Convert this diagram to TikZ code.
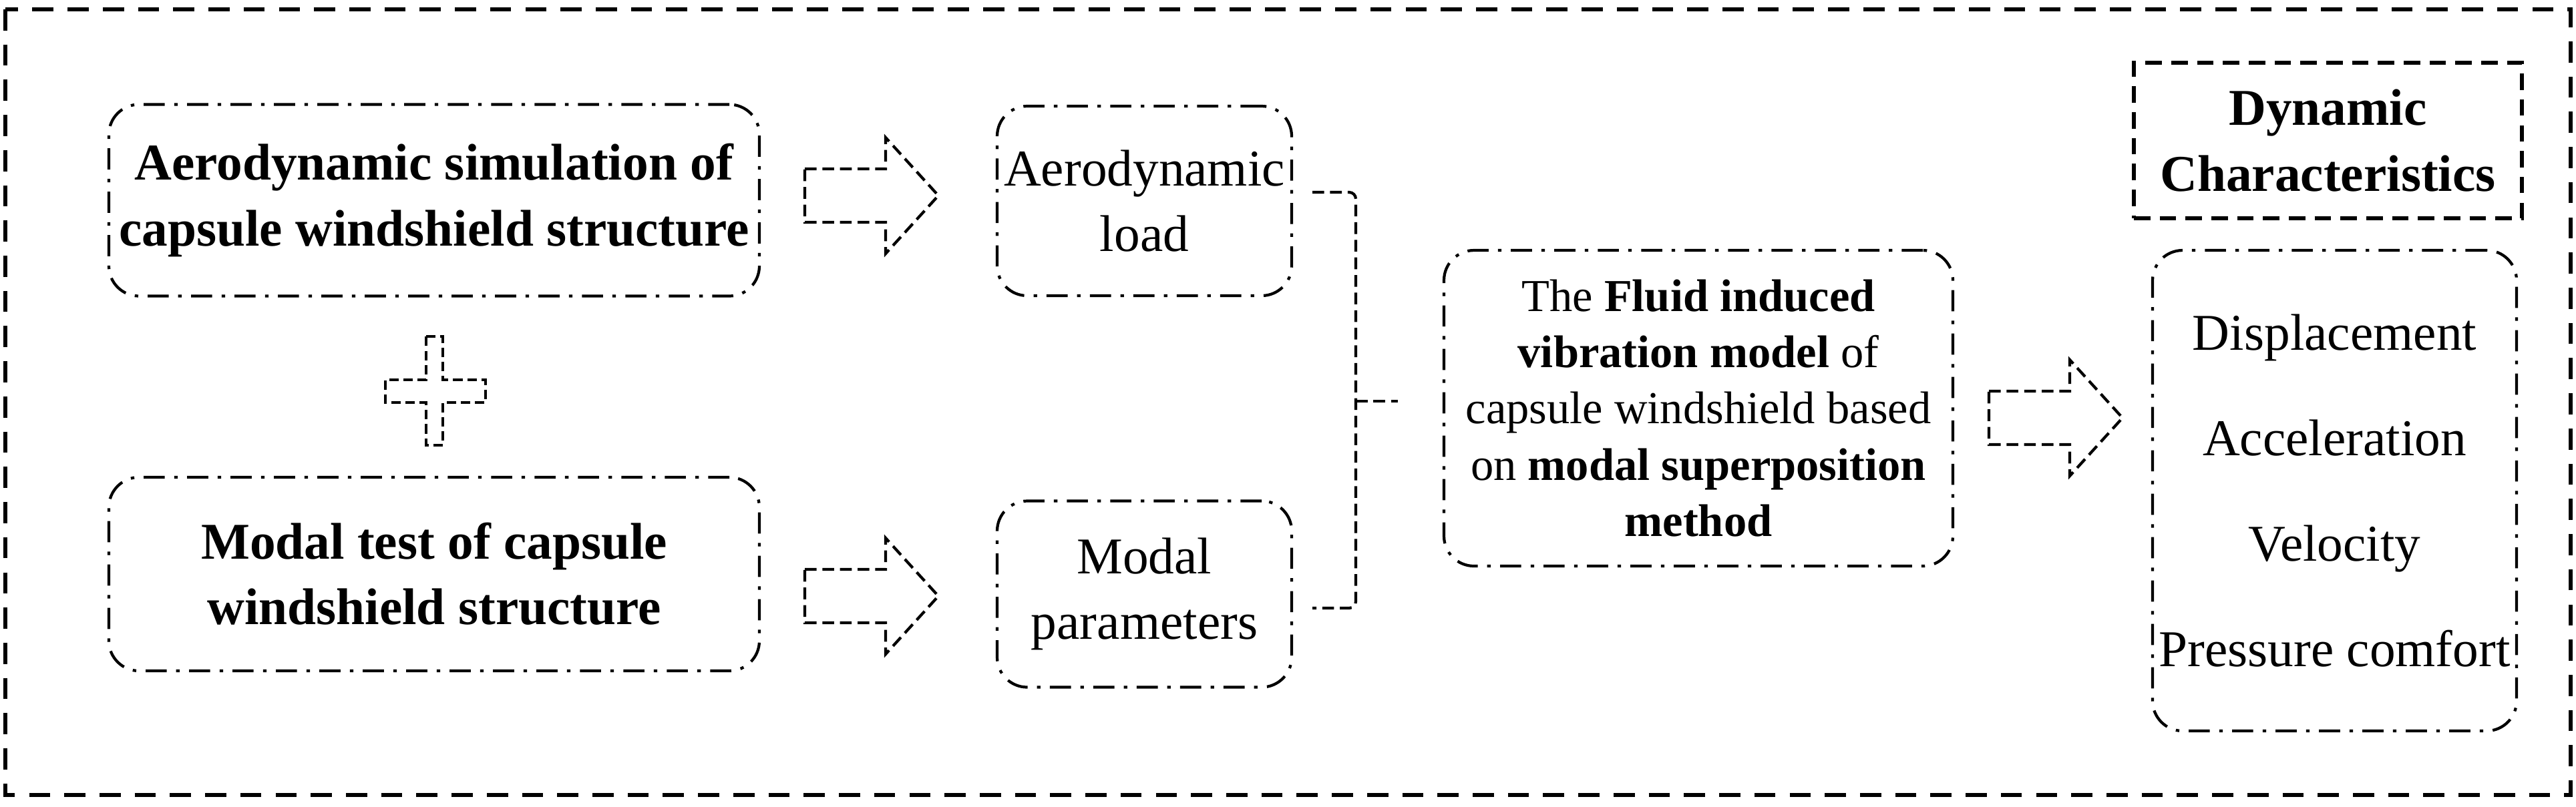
\documentclass[tikz,border=0pt]{standalone}
\usepackage{fontspec}
\setmainfont{Liberation Serif}
\begin{document}
\begin{tikzpicture}[
box/.style={
  draw,
  line width=1.2pt,
  rounded corners=0.45cm,
  dash pattern=on 9pt off 4pt on 1.5pt off 4pt,
  align=center,
  inner sep=0pt
  },
dashln/.style={
  line width=1.2pt,
  dash pattern=on 5pt off 2.5pt
  },
big/.style={font=\fontsize{22}{28}\selectfont},
mid/.style={font=\fontsize{19.5}{24}\selectfont}
]
\useasboundingbox (0,0) rectangle (38.57,-12.08);
\draw[line width=1.8pt,dash pattern=on 9pt off 6pt] (0.08,-0.14) rectangle (38.49,-11.91);

\node[box,big,minimum width=9.74cm,minimum height=2.87cm] (aerosim) at (6.50,-3.00)
  {\textbf{Aerodynamic simulation of}\\\textbf{capsule windshield structure}};
\node[box,big,minimum width=9.74cm,minimum height=2.90cm] (modtest) at (6.50,-8.60)
  {\textbf{Modal test of capsule}\\\textbf{windshield structure}};
\node[box,big,minimum width=4.41cm,minimum height=2.84cm] (aeroload) at (17.135,-3.01)
  {Aerodynamic\\load};
\node[box,big,minimum width=4.41cm,minimum height=2.79cm] (modpar) at (17.135,-8.90)
  {Modal\\parameters};
\node[box,mid,minimum width=7.62cm,minimum height=4.73cm] (fiv) at (25.43,-6.115)
  {The \textbf{Fluid induced}\\\textbf{vibration model} of\\capsule windshield based\\on \textbf{modal superposition}\\\textbf{method}};
\node[draw,line width=1.5pt,dash pattern=on 7pt off 4pt,big,align=center,
  minimum width=5.81cm,minimum height=2.33cm,inner sep=0pt] (title) at (34.855,-2.105)
  {\textbf{Dynamic}\\\textbf{Characteristics}};
\node[box,big,minimum width=5.45cm,minimum height=7.20cm,font=\fontsize{22}{45}\selectfont] (res) at (34.955,-7.35)
  {Displacement\\Acceleration\\Velocity\\Pressure comfort};

% block arrows
\foreach \x/\y in {12.05/-2.93, 12.05/-8.93, 29.78/-6.26}
  \draw[dashln] (\x,\y+0.40) -- ++(1.21,0) -- ++(0,0.47) -- (\x+2.00,\y)
    -- (\x+1.21,\y-0.87) -- ++(0,0.47) -- (\x,\y-0.40) -- cycle;

% plus sign
\draw[line width=1.0pt,dash pattern=on 4pt off 2pt]
  (6.38,-5.04) -- (6.63,-5.04) -- (6.63,-5.69) -- (7.27,-5.69) -- (7.27,-6.03)
  -- (6.63,-6.03) -- (6.63,-6.67) -- (6.38,-6.67) -- (6.38,-6.03) -- (5.77,-6.03)
  -- (5.77,-5.69) -- (6.38,-5.69) -- cycle;

% bracket joining the two inputs
\coordinate (jn) at (20.93,-6.01);
\draw[dashln,rounded corners=0.1cm] ([xshift=0.29cm,yshift=0.13cm]aeroload.east) -| (20.30,-6.01)
  |- ([xshift=0.29cm,yshift=-0.21cm]modpar.east);
\draw[dashln] (20.30,-6.01) -- (jn);
\end{tikzpicture}
\end{document}
